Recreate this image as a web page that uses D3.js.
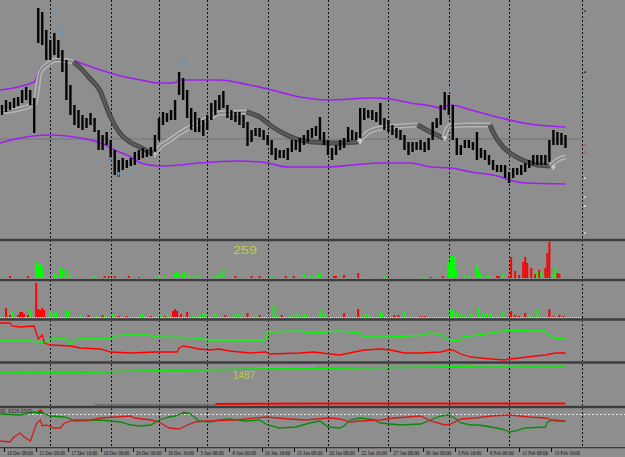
<!DOCTYPE html>
<html><head><meta charset="utf-8">
<script src="https://cdn.jsdelivr.net/npm/d3@7"></script>
<style>html,body{margin:0;padding:0;background:#8e8e8e;overflow:hidden}svg{display:block}</style>
</head><body><svg id="c" width="625" height="457"></svg>
<script>
// ---------- DATA ----------
const timeLabels = ["10 Dec 08:00","15 Dec 00:00","17 Dec 16:00","20 Dec 08:00","26 Dec 00:00","30 Dec 16:00","3 Jan 08:00","8 Jan 00:00","10 Jan 16:00","15 Jan 08:00","20 Jan 08:00","22 Jan 16:00","27 Jan 08:00","30 Jan 00:00","3 Feb 16:00","6 Feb 08:00","11 Feb 08:00","13 Feb 16:00"];
const labelBar = [1,17,33,49,65,81,97,113,129,145,161,177,193,209,225,241,257,273];
const gridBar = [24,54,78,102,132,162,192,222,252,288];

// price bars (one every 2 H4 bars), high / low
const barHigh = [145,150,148,152,153,160,163,160,152,242,238,220,210,217,210,200,190,165,145,140,135,132,137,132,120,115,118,110,100,90,92,90,92,98,100,102,100,103,115,132,138,137,140,150,178,172,160,142,138,132,130,135,147,150,155,159,145,140,138,138,135,128,120,122,122,120,115,110,102,100,100,102,110,110,112,115,120,122,124,133,118,110,102,105,110,112,123,120,118,142,142,140,140,138,147,132,130,125,122,120,115,108,108,108,110,108,112,128,132,145,158,155,145,112,105,110,110,108,118,102,100,95,90,85,85,85,78,82,82,85,87,90,95,95,95,95,110,120,118,117,115];
const barLow  = [135,138,140,142,144,147,150,145,117,207,205,190,190,195,192,178,150,135,125,122,120,122,125,118,100,100,105,90,75,73,80,82,84,85,90,92,93,94,95,110,125,128,130,130,155,150,132,120,118,118,114,120,130,135,140,142,132,130,128,125,122,104,108,114,113,110,105,95,90,92,92,90,98,100,98,105,108,112,114,110,105,95,90,95,100,102,108,110,110,112,130,132,130,128,125,120,118,115,112,110,100,95,98,100,100,98,100,110,122,125,140,135,110,95,95,102,102,100,90,92,90,85,80,78,78,72,67,72,75,75,78,82,85,85,85,85,88,105,105,105,102];

// envelope bands
const upperBar = [-1,16,19,24,29,34,39,49,59,69,78,85,89,108,123,132,148,162,184,193,203,213,218,223,233,248,262,272,280];
const upperVal = [160,168,182,187,191,190,187,180,174,170,167,167,170,170,165,161,153,150,152,151,147,144,142,145,140,132,126,124,123];
const lowerBar = [-1,9,24,39,49,56,64,69,78,88,98,118,132,142,162,174,188,203,213,223,233,248,252,260,280];
const lowerVal = [107,112,115,112,107,100,93,87,84,85,87,89,87,83,83,85,87,87,83,82,78,73,70,67,66];

// moving-average ribbon (1 = rising/light, 0 = falling/dark)
const maBar = [-1,6.5,16.5,17.5,19,23,26.5,29,35.5, 39,43.5,48.5,53.5,58.5,63.5,68.5,73.5,76, 78.5,83.5,88.5,93.5,98.5,103.5,108.5,121.5, 128,134.5,141.5,148,154.5,164.5,177, 181.5,188,198,206.5, 211,216,219.5, 222.5,232.5,242.5, 244,249,254,261,266,272.5, 276,280];
const maVal = [138,140,147,160,178,186,190,190,188, 182,172,160,135,117,108,103,98,97, 103,110,117,123,128,133,137,138, 133,123,115,110,108,107,108, 117,122,124,125, 120,115,112, 124,125,125, 118,103,95,88,85,84, 90,93];
const maUp  = [1,1,1,1,1,1,1,1,1, 0,0,0,0,0,0,0,0,0, 1,1,1,1,1,1,1,1, 0,0,0,0,0,0,0, 1,1,1,1, 0,0,0, 1,1,1, 0,0,0,0,0,0, 1,1];

// signal arrows
const arrowDownBar = [26,28,30,89,91,222];
const arrowDownVal = [237,222,216,187,185,160];
const arrowUpBar = [48,54,58,63,251];
const arrowUpVal = [90,92,77,77,62];
const maArrowBar = [76,178,220,274];
const maArrowVal = [97,110,113,84];
const lastPrice = 111;
const scaleMarkVal = [239,228,178,150,142,115,105,98,72,53,44,17];
const scaleMarkCol = ["#303030","#20d020","#202020","#30c030","#30c030","#30c030","#d04040","#d04040","#eeeeee","#eeeeee","#eeeeee","#eeeeee"];

// histogram panel 1 (positive = green, negative = red)
const h1Bar = [4,13,17,18,19,20,26,27,29,30,32,34,46,51,53,56,63,68,78,81,86,87,88,90,91,93,96,98,105,107,108,110,116,124,128,134,141,145,150,153,155,157,158,165,166,170,177,179,190,209,213,219,222,223,224,225,226,230,232,236,237,238,241,242,246,247,249,252,253,255,257,259,260,261,263,265,266,267,268,270,271,272,274,275,276,277];
const h1Val = [-2,-2,16,13,14,11,5,3,11,8,8,3,3,-2,-2,-2,-2,-1,3,2,4,7,4,4,6,3,2,2,2,2,4,8,-2,-2,-2,3,-2,-2,4,2,2,4,4,-2,-2,-3,-5,1,2,2,-1,-2,16,22,22,21,8,3,2,13,8,4,3,3,-2,-2,4,-2,-21,-7,-3,-16,-21,-15,-10,-4,7,-8,7,-10,-25,-36,4,10,-5,-4];
const h1Label = "259";

// histogram panel 2
const h2Bar = [2,4,5,8,9,10,11,13,14,17,18,19,20,21,24,26,27,32,33,39,43,47,50,51,55,58,62,69,70,74,79,81,82,85,86,87,89,92,95,98,100,101,106,111,116,118,122,127,128,135,137,139,143,146,148,150,151,158,160,170,177,179,181,183,188,189,195,197,200,208,210,223,224,226,228,230,233,237,239,241,243,249,253,255,257,260,262,266,272,274,277,279];
const h2Val = [-9,-2,6,-2,-5,-5,-3,-2,7,-34,-8,-7,-9,-7,5,4,5,7,6,2,-2,2,-2,2,3,-1,-1,2,3,-1,2,-1,2,-6,-8,-6,-3,-5,2,2,4,3,4,-2,3,3,-4,2,-2,11,2,-2,1,3,2,3,2,7,3,-4,-8,2,3,2,5,3,-2,-2,6,-1,-1,7,8,6,3,2,3,10,4,4,4,5,-6,-2,-1,-4,2,7,-8,-1,-2,-1];

// line panel (green / red)
const g3Bar = [-1,14,19,22,24,32,34,36,38,54,56,61,73,76,98,102,131,132,148,153,168,178,179,193,210,212,218,220,224,228,229,243,252,262,270,272,275,280];
const g3Val = [21,21,20,19,23,23,18,21,23,23,26,27,27,25,24,22,22,30,31,29,31,29,25,25,27,29,28,24,21,22,25,29,32,31,31,27,24,23];
const r3Bar = [-1,4,5,9,16,17,18,19,20,21,24,34,39,49,54,64,76,87,88,90,93,98,103,108,113,123,131,133,148,155,163,168,175,180,188,193,200,208,218,222,224,228,233,243,250,252,257,265,270,275,280];
const r3Val = [39,39,36,35,36,29,23,25,27,19,17,16,14,13,10,9,10,10,14,16,15,13,12,13,11,9,10,8,9,10,8,7,10,12,13,12,9,9,10,12,12,8,5,3,2,3,4,6,7,9,9];

// long-term panel
const g4Bar = [-1,49,69,98,128,173,218,237,280];
const g4Val = [34,35,36,37,38,39,40,41,41];
const v4Bar = [126,156,null,233,255];
const v4Val = [39.8,40.2,null,41.6,41.8];
const r4Bar = [106,163,280];
const r4Val = [3,3.4,3.4];
const k4Bar = [46,106];
const k4Val = [2,2];
const p4Label = "1487";

// oscillator panel
const g5Bar = [-1,9,16,20,24,31,34,36,49,59,64,69,74,78,83,86,90,93,98,103,108,113,121,128,132,138,146,153,158,162,168,170,173,178,185,188,193,198,208,213,218,222,225,228,233,237,243,248,250,252,255,260,270,271,274,280];
const g5Val = [36,35,38,37,34,33,31,29,30,28,25,24,25,30,33,34,37,37,29,28,30,31,29,30,25,22,23,27,29,23,22,24,30,32,30,27,26,25,26,30,34,35,32,27,25,25,23,21,20,18,19,22,23,28,30,29];
const r5Bar = [-1,4,6,9,11,14,15,17,19,20,22,26,29,31,36,44,49,64,66,74,78,83,88,91,96,101,116,131,143,151,156,163,168,173,178,188,195,208,213,220,223,228,235,243,252,262,270,275,280];
const r5Val = [9,8,13,17,13,9,14,26,30,24,25,22,22,27,30,30,32,34,32,30,28,22,21,24,28,29,30,33,31,30,31,32,31,28,29,30,32,34,29,25,26,31,32,34,35,33,32,29,29];
const bumpBar = [17,18,19,20,21,null,89,90,91,92];
const bumpVal = [36,39.5,41,39.5,36,null,36,38.5,38.5,36];
const p5Level = 36;
const p5Label = "00 ,6326.0000";

// ---------- DRAW ----------
const svg = d3.select("#c");
const W = 625;
const x = d3.scaleLinear().domain([0, 282]).range([2, 569.5]);

const yMain = d3.scaleLinear().domain([10, 250]).range([240, 0]);
const y1 = d3.scaleLinear().domain([0, 36]).range([278, 242]);
const y2 = d3.scaleLinear().domain([0, 36]).range([317, 281]);
const y3 = d3.scaleLinear().domain([0, 42]).range([362, 320]);
const y4 = d3.scaleLinear().domain([0, 44]).range([407, 363]);
const y5 = d3.scaleLinear().domain([0, 42]).range([450, 408]);

svg.append("rect").attr("width", W).attr("height", 457).attr("fill", "#8e8e8e");

const defs = svg.append("defs");
defs.append("clipPath").attr("id","clipMain").append("rect").attr("x",0).attr("y",0).attr("width",582).attr("height",239);

// grid (vertical dotted)
svg.append("g").selectAll("line").data(gridBar).join("line")
  .attr("x1", d => Math.round(x(d)) + 0.5).attr("x2", d => Math.round(x(d)) + 0.5)
  .attr("y1", 0).attr("y2", 448)
  .attr("stroke", "#111").attr("stroke-width", 1).attr("stroke-dasharray", "2,2");

// ---- main panel ----
const gm = svg.append("g").attr("clip-path","url(#clipMain)");
gm.append("line").attr("x1",0).attr("x2",625).attr("y1",yMain(lastPrice)).attr("y2",yMain(lastPrice))
  .attr("stroke","#7c7c7c").attr("stroke-width",1.5);

const lineMain = (bars, vals) => d3.line().x((d,i)=>x(bars[i])).y(d=>yMain(d)).curve(d3.curveMonotoneX)(vals);
gm.append("path").attr("d", lineMain(upperBar, upperVal)).attr("fill","none").attr("stroke","#a020f0").attr("stroke-width",1.6);
gm.append("path").attr("d", lineMain(lowerBar, lowerVal)).attr("fill","none").attr("stroke","#a020f0").attr("stroke-width",1.6);

// MA ribbon segments
const segs = [];
maUp.forEach((u,i) => {
  if (i === 0 || u !== maUp[i-1]) {
    const s = {up:u, pts:[]};
    if (i > 0) s.pts.push(i-1);
    segs.push(s);
  }
  segs[segs.length-1].pts.push(i);
});
const maLine = d3.line().x(i=>x(maBar[i])).y(i=>yMain(maVal[i])).curve(d3.curveMonotoneX);
segs.forEach(s => {
  const d = maLine(s.pts);
  if (s.up) {
    gm.append("path").attr("d",d).attr("fill","none").attr("stroke","#b5b5b5").attr("stroke-width",5).attr("stroke-linecap","butt");
    gm.append("path").attr("d",d).attr("fill","none").attr("stroke","#868686").attr("stroke-width",1.8);
  } else {
    gm.append("path").attr("d",d).attr("fill","none").attr("stroke","#4c4c4c").attr("stroke-width",5).attr("stroke-linecap","butt");
    gm.append("path").attr("d",d).attr("fill","none").attr("stroke","#646464").attr("stroke-width",1.1);
  }
});

// price bars
gm.append("g").selectAll("rect").data(barHigh).join("rect")
  .attr("x",(d,i)=>x(2*i)-1.2).attr("width",2.4)
  .attr("y",d=>yMain(d)).attr("height",(d,i)=>Math.max(1, yMain(barLow[i]) - yMain(d)))
  .attr("fill","#050505");

// arrows
const downArrow = (cx, cy) => `M${cx-0.6},${cy-4}h1.2v2.5h1.8l-2.4,3l-2.4,-3h1.8z`;
const upArrow = (cx, cy) => `M${cx-0.6},${cy+4}h1.2v-2.5h1.8l-2.4,-3l-2.4,3h1.8z`;
gm.append("g").selectAll("path").data(arrowDownVal).join("path")
  .attr("d",(d,i)=>downArrow(x(arrowDownBar[i]), yMain(d))).attr("fill","#7391b0");
gm.append("g").selectAll("path").data(arrowUpVal).join("path")
  .attr("d",(d,i)=>upArrow(x(arrowUpBar[i]), yMain(d))).attr("fill","#7391b0");
gm.append("g").selectAll("path").data(maArrowVal).join("path")
  .attr("d",(d,i)=>upArrow(x(maArrowBar[i]), yMain(d))).attr("fill","#d8d8d8");

// right scale marks
svg.append("g").selectAll("rect").data(scaleMarkVal).join("rect")
  .attr("x",584).attr("width",2).attr("y",d=>yMain(d)-0.5).attr("height",1.2)
  .attr("fill",(d,i)=>scaleMarkCol[i]);

// ---- histogram panels ----
function histo(bars, vals, ys) {
  svg.append("g").selectAll("rect").data(vals).join("rect")
    .attr("x",(d,i)=>x(bars[i])-1).attr("width",2)
    .attr("y",d=>ys(Math.abs(d))).attr("height",d=>ys(0)-ys(Math.abs(d)))
    .attr("fill",d=>d>=0?"#00ff00":"#ff0000");
  svg.append("line").attr("x1",0).attr("x2",582).attr("y1",ys(0)+0.5).attr("y2",ys(0)+0.5)
    .attr("stroke","#d8d8d8").attr("stroke-width",1).attr("stroke-dasharray","1,1");
}
histo(h1Bar, h1Val, y1);
histo(h2Bar, h2Val, y2);
svg.append("text").attr("x",233).attr("y",253.5).text(h1Label)
  .attr("font-family","Liberation Sans, Arial, sans-serif").attr("font-size",11)
  .attr("fill","#c3cb4e").attr("textLength",24).attr("lengthAdjust","spacingAndGlyphs");

// ---- line panel ----
const ln = (bars, vals, ys) => d3.line().defined(d=>d!==null).x((d,i)=>x(bars[i])).y(d=>ys(d))(vals);
svg.append("path").attr("d",ln(g3Bar,g3Val,y3)).attr("fill","none").attr("stroke","#00ff00").attr("stroke-width",1.3);
svg.append("path").attr("d",ln(r3Bar,r3Val,y3)).attr("fill","none").attr("stroke","#ff0000").attr("stroke-width",1.3);

// ---- long-term panel ----
svg.append("path").attr("d",ln(k4Bar,k4Val,y4)).attr("fill","none").attr("stroke","#6a6a6a").attr("stroke-width",1.5);
svg.append("path").attr("d",ln(g4Bar,g4Val,y4)).attr("fill","none").attr("stroke","#00ee00").attr("stroke-width",1.5);
svg.append("path").attr("d",ln(v4Bar,v4Val,y4)).attr("fill","none").attr("stroke","#c080d0").attr("stroke-width",1);
svg.append("path").attr("d",ln(r4Bar,r4Val,y4)).attr("fill","none").attr("stroke","#ff0000").attr("stroke-width",2);
svg.append("text").attr("x",233).attr("y",378.5).text(p4Label)
  .attr("font-family","Liberation Sans, Arial, sans-serif").attr("font-size",10)
  .attr("fill","#bcc84e").attr("textLength",22).attr("lengthAdjust","spacingAndGlyphs");

// ---- oscillator panel ----
svg.append("line").attr("x1",0).attr("x2",625).attr("y1",y5(p5Level)+0.5).attr("y2",y5(p5Level)+0.5)
  .attr("stroke","#e8e8e8").attr("stroke-width",1).attr("stroke-dasharray","2,2");
svg.append("path").attr("d", d3.area().defined(d=>d!==null).x((d,i)=>x(bumpBar[i])).y0(y5(p5Level)).y1(d=>y5(d))(bumpVal))
  .attr("fill","#d02020");
svg.append("path").attr("d",ln(g5Bar,g5Val,y5)).attr("fill","none").attr("stroke","#0a8a0a").attr("stroke-width",1.3);
svg.append("path").attr("d",ln(r5Bar,r5Val,y5)).attr("fill","none").attr("stroke","#d41c1c").attr("stroke-width",1.3);
svg.append("text").attr("x",0).attr("y",413).text(p5Label)
  .attr("font-family","Liberation Sans, Arial, sans-serif").attr("font-size",5.5)
  .attr("fill","#1e1e1e").attr("textLength",32).attr("lengthAdjust","spacingAndGlyphs");

// ---- separators ----
const sepY = [240, 280, 319.5, 362.5, 407];
sepY.forEach(s => {
  svg.append("rect").attr("x",0).attr("width",W).attr("y",s-1.5).attr("height",3).attr("fill","#6a6a6a");
  svg.append("rect").attr("x",0).attr("width",W).attr("y",s-1).attr("height",2).attr("fill","#3c3c3c");
});

// ---- time axis ----
svg.append("rect").attr("x",0).attr("width",W).attr("y",447).attr("height",1.3).attr("fill","#3a3a3a");
const ax = svg.append("g");
ax.selectAll("line").data(labelBar).join("line")
  .attr("x1",d=>Math.round(x(d))+0.5).attr("x2",d=>Math.round(x(d))+0.5)
  .attr("y1",448).attr("y2",452).attr("stroke","#111").attr("stroke-width",1);
ax.selectAll("text").data(timeLabels).join("text")
  .attr("x",(d,i)=>x(labelBar[i])+3).attr("y",455)
  .text(d=>d)
  .attr("font-family","Liberation Serif, DejaVu Serif, serif").attr("font-size",6.5)
  .attr("fill","#111").attr("textLength",d=>d.length*2.15).attr("lengthAdjust","spacingAndGlyphs");
</script>
</body></html>
